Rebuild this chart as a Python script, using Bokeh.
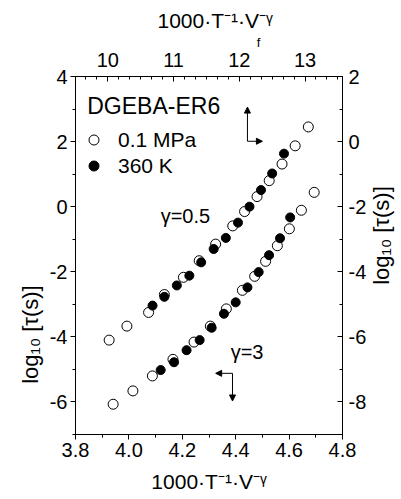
import math
from bokeh.plotting import figure
from bokeh.models import (LinearAxis, Range1d, FixedTicker, PrintfTickFormatter, CustomJSTickFormatter,
                          Label, Arrow, NormalHead, Legend, LegendItem, Title)
from bokeh.embed import file_html
from bokeh.resources import INLINE

FONT = "Liberation Sans"

# ---- data: gamma = 3 (bottom x axis / left y axis) ----
g3_open_x = [4.694, 4.646, 4.601, 4.556, 4.512, 4.471, 4.425, 4.365, 4.305, 4.244, 4.165, 4.088, 4.015, 3.941]
g3_open_y = [0.44, -0.11, -0.68, -1.20, -1.68, -2.14, -2.57, -3.14, -3.67, -4.16, -4.69, -5.20, -5.66, -6.07]
g3_fill_x = [4.604, 4.566, 4.525, 4.486, 4.444, 4.400, 4.356, 4.310, 4.265, 4.216, 4.169, 4.119]
g3_fill_y = [-0.33, -0.97, -1.49, -2.01, -2.48, -2.94, -3.29, -3.72, -4.10, -4.41, -4.78, -5.02]

# ---- data: gamma = 0.5 (top x axis / right y axis) ----
g05_open_x = [13.05, 12.85, 12.65, 12.455, 12.27, 12.08, 11.90, 11.64, 11.39, 11.15, 10.86, 10.62, 10.29, 10.02]
g05_open_y = [0.45, -0.13, -0.69, -1.20, -1.69, -2.15, -2.59, -3.15, -3.66, -4.17, -4.70, -5.25, -5.67, -6.10]
g05_fill_x = [12.68, 12.50, 12.33, 12.155, 11.98, 11.795, 11.61, 11.42, 11.24, 11.05, 10.86, 10.68]
g05_fill_y = [-0.37, -0.98, -1.49, -2.00, -2.49, -2.96, -3.30, -3.71, -4.12, -4.42, -4.77, -5.04]

# ---- ticks ----
bottom_ticks = [3.8, 4.0, 4.2, 4.4, 4.6, 4.8]
bottom_minor = [3.9, 4.1, 4.3, 4.5, 4.7]
left_ticks = [-6, -4, -2, 0, 2, 4]
left_minor = [-7, -5, -3, -1, 1, 3]
right_ticks = [-8, -6, -4, -2, 0, 2]
right_minor = [-9, -7, -5, -3, -1, 1]
top_ticks = [10, 11, 12, 13]
top_minor = [9.5 + i / 6 for i in range(25)]

x_title = "1000·T⁻¹·V⁻ᵞ"
y_title = "log₁₀ [τ(s)]"

p = figure(width=401, height=499, frame_width=267, frame_height=358,
           x_range=Range1d(3.8, 4.8), y_range=Range1d(-7, 4),
           output_backend="svg", toolbar_location=None,
           min_border_left=75, min_border_right=59, min_border_top=76, min_border_bottom=65,
           x_axis_location=None, y_axis_location=None)
p.extra_x_ranges = {"top": Range1d(9.508, 13.57)}
p.extra_y_ranges = {"right": Range1d(-9, 2)}
p.xgrid.visible = False
p.ygrid.visible = False
p.outline_line_color = "black"
p.outline_line_width = 1
p.background_fill_color = "white"
p.border_fill_color = "white"


def style(ax, ticks, minor, fmt, tin, tout, standoff, label=None, lstand=5):
    ax.ticker = FixedTicker(ticks=ticks, minor_ticks=minor)
    ax.formatter = PrintfTickFormatter(format=fmt)
    ax.major_tick_in = tin
    ax.major_tick_out = tout
    ax.minor_tick_in = 3 if tin else 0
    ax.minor_tick_out = 3 if tout else 0
    ax.major_label_standoff = standoff
    ax.major_label_text_font = FONT
    ax.major_label_text_font_size = "20px"
    ax.major_label_text_color = "black"
    ax.axis_line_color = "black"
    ax.major_tick_line_color = "black"
    ax.minor_tick_line_color = "black"
    ax.axis_label = label
    ax.axis_label_standoff = lstand
    ax.axis_label_text_font = FONT
    ax.axis_label_text_font_size = "21px"
    ax.axis_label_text_font_style = "normal"
    ax.axis_label_text_color = "black"


def text_axis(pos, text, standoff, orient, size, range_name=None):
    """An axis without lines whose single tick label carries an axis title (or part of one)."""
    ax = LinearAxis(**({"x_range_name": range_name} if range_name else {}))
    ax.ticker = FixedTicker(ticks=[pos], minor_ticks=[])
    ax.formatter = CustomJSTickFormatter(code="return %r;" % text)
    ax.major_label_orientation = orient
    ax.major_label_standoff = standoff
    ax.major_label_text_font = FONT
    ax.major_label_text_font_size = size
    ax.major_label_text_color = "black"
    ax.major_tick_in = 0
    ax.major_tick_out = 0
    ax.axis_line_color = None
    ax.major_tick_line_color = None
    ax.minor_tick_line_color = None
    return ax


bottom = LinearAxis()
style(bottom, bottom_ticks, bottom_minor, "%.1f", 0, 5, 3, x_title, 10)
p.add_layout(bottom, "below")

left = LinearAxis()
style(left, left_ticks, left_minor, "%d", 0, 5, 3)
p.add_layout(left, "left")
p.add_layout(text_axis(-3.93, y_title, 3, "vertical", "22px"), "left")

top = LinearAxis(x_range_name="top")
style(top, top_ticks, top_minor, "%d", 5, 0, 10)
p.add_layout(top, "above")
# subscript f of the top title, then the title itself
p.add_layout(text_axis(4.486, "f", 0, "horizontal", "13px"), "above")
p.add_layout(Title(text=x_title, align="left", offset=82, standoff=0, text_font=FONT,
                   text_font_size="21px", text_font_style="normal", text_color="black"), "above")

right = LinearAxis(y_range_name="right")
style(right, right_ticks, right_minor, "%d", 5, 0, 6)
p.add_layout(right, "right")
p.add_layout(text_axis(-2.40, y_title, 12, math.pi / 2, "22px"), "right")

# ---- markers ----
r_open = p.scatter(g3_open_x, g3_open_y, size=10, marker="circle",
                   fill_color="white", line_color="black", line_width=1)
r_fill = p.scatter(g3_fill_x, g3_fill_y, size=9, marker="circle",
                   fill_color="black", line_color="black", line_width=1)
p.scatter(g05_open_x, g05_open_y, size=10, marker="circle", x_range_name="top", y_range_name="right",
          fill_color="white", line_color="black", line_width=1)
p.scatter(g05_fill_x, g05_fill_y, size=9, marker="circle", x_range_name="top", y_range_name="right",
          fill_color="black", line_color="black", line_width=1)

legend = Legend(items=[LegendItem(label="0.1 MPa", renderers=[r_open]),
                       LegendItem(label="360 K", renderers=[r_fill])],
                location=(6, 256), padding=0, margin=0, spacing=1,
                glyph_width=25, glyph_height=25, label_standoff=12,
                border_line_color=None, background_fill_alpha=0,
                label_text_font=FONT, label_text_font_size="21px", label_text_color="black")
p.add_layout(legend)

# ---- text annotations ----
def lab(x, y, text, size, align="left", angle=0.0):
    p.add_layout(Label(x=x, y=y, text=text, text_font=FONT, text_font_size=size,
                       text_align=align, text_baseline="middle", angle=angle,
                       text_color="black"))

lab(3.844, 3.09, "DGEBA-ER6", "23px")
lab(4.119, -0.285, "γ=0.5", "20px")
lab(4.381, -4.48, "γ=3", "20px")

# ---- arrows indicating which axes each curve uses ----
def arr(x0, y0, x1, y1):
    p.add_layout(Arrow(end=NormalHead(size=6, fill_color="black", line_color="black", line_width=1),
                       x_start=x0, y_start=y0, x_end=x1, y_end=y1,
                       line_color="black", line_width=1))

arr(4.444, 2.01, 4.444, 3.06)
arr(4.444, 2.01, 4.50, 2.01)
arr(4.388, -5.12, 4.325, -5.12)
arr(4.388, -5.12, 4.388, -5.97)

open("out.html", "w").write(file_html(p, INLINE))
